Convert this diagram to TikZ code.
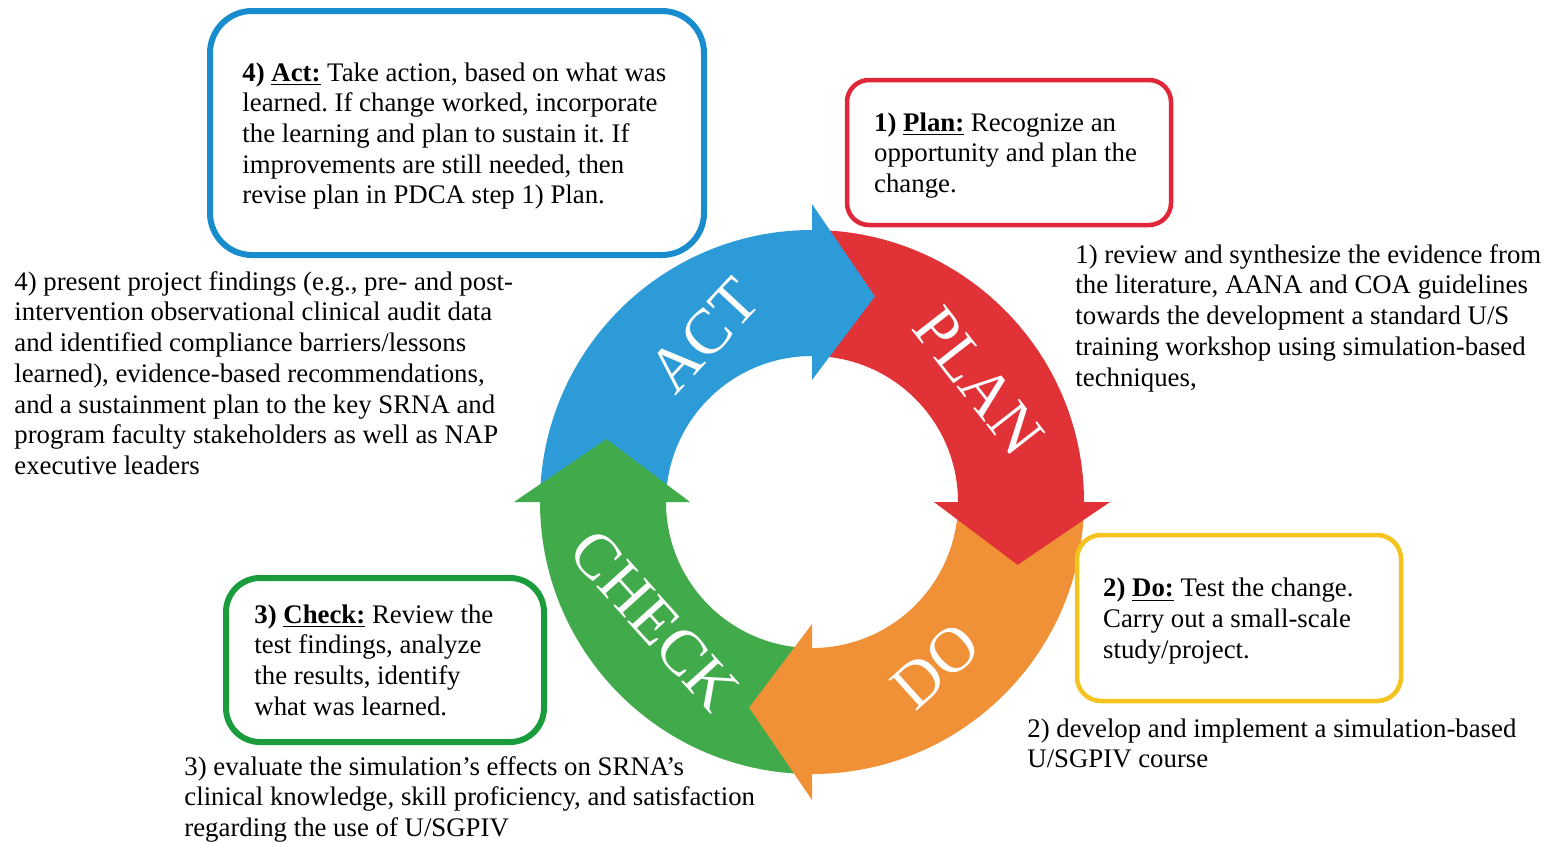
\documentclass[tikz,border=0pt]{standalone}
\usepackage{fontspec}
\setmainfont{Liberation Serif}
\frenchspacing
\definecolor{actblue}{HTML}{2D9BD7}
\definecolor{planred}{HTML}{E13237}
\definecolor{doorange}{HTML}{F09137}
\definecolor{checkgreen}{HTML}{41AA4B}
\definecolor{actframe}{HTML}{198CCD}
\definecolor{planframe}{HTML}{E2263A}
\definecolor{doframe}{HTML}{F5C31E}
\definecolor{checkframe}{HTML}{1A9B3C}
\begin{document}
\begin{tikzpicture}[
		x=0.5pt, y=0.5pt,
		card/.style={draw=#1, fill=white, inner sep=0pt},
		cardtext/.style={anchor=west, align=left, inner sep=0pt, font=\fontsize{13.4pt}{15.3pt}\selectfont},
		note/.style={anchor=north west, align=left, inner sep=0pt, font=\fontsize{13.4pt}{15.35pt}\selectfont},
		ringlabel/.style={text=white, inner sep=0pt, font=\fontsize{32pt}{32pt}\selectfont}
	]
	\useasboundingbox (0,-841) rectangle (1547,0);
	\coordinate (hub) at (812,-502);

	\foreach \col/\from/\to in {checkgreen/270/180, actblue/180/90, planred/90/0, doorange/0/-90}
		\fill[\col, shift={(hub)}] (\from:272) arc[start angle=\from, end angle=\to, radius=272]
			-- (\to:146) arc[start angle=\to, end angle=\from, radius=146] -- cycle;
	\foreach \col/\at in {checkgreen/180, actblue/90, planred/0, doorange/-90}
		\fill[\col, shift={(hub)}] (\at:298) -- (\at-17:215) -- (\at:122) -- cycle;

	\node[ringlabel, rotate=47] (actlabel) at ([shift={(123:198)}]hub) {ACT};
	\node[ringlabel, rotate=-52] (planlabel) at ([shift={(36:206)}]hub) {PLAN};
	\node[ringlabel, rotate=42] (dolabel) at ([shift={(-53:205)}]hub) {DO};
	\node[ringlabel, rotate=-48] (checklabel) at ([shift={(-143:197)}]hub) {CHECK};

	\node[card=actframe, line width=3pt, rounded corners=21pt, minimum width=247pt, minimum height=122pt] (actbox) at (457,-133) {};
	\node[cardtext] (acttext) at ([xshift=17.5pt, yshift=-1.5pt]actbox.west) {\textbf{4) \underline{Act:}} Take action, based on what was\\
		learned. If change worked, incorporate\\
		the learning and plan to sustain it. If\\
		improvements are still needed, then\\
		revise plan in PDCA step 1) Plan.};

	\node[card=planframe, line width=2.25pt, rounded corners=11pt, minimum width=162pt, minimum height=72.5pt] (planbox) at (1009,-152.5) {};
	\node[cardtext] (plantext) at ([xshift=14.5pt, yshift=-1.5pt]planbox.west) {\textbf{1) \underline{Plan:}} Recognize an\\
		opportunity and plan the\\
		change.};

	\node[card=doframe, line width=2.25pt, rounded corners=12pt, minimum width=162pt, minimum height=83pt] (dobox) at (1239,-618) {};
	\node[cardtext] (dotext) at ([xshift=14pt, yshift=-1.5pt]dobox.west) {\textbf{2) \underline{Do:}} Test the change.\\
		Carry out a small-scale\\
		study/project.};

	\node[card=checkframe, line width=3pt, rounded corners=17pt, minimum width=159pt, minimum height=82pt] (checkbox) at (385,-660) {};
	\node[cardtext] (checktext) at ([xshift=15.5pt]checkbox.west) {\textbf{3) \underline{Check:}} Review the\\
		test findings, analyze\\
		the results, identify\\
		what was learned.};

	\node[note] (plannote) at (1075,-244) {1) review and synthesize the evidence from\\
		the literature, AANA and COA guidelines\\
		towards the development a standard U/S\\
		training workshop using simulation-based\\
		techniques,};
	\node[note] (donote) at (1027,-718) {2) develop and implement a simulation-based\\
		U/SGPIV course};
	\node[note] (checknote) at (184,-756) {3) evaluate the simulation’s effects on SRNA’s\\
		clinical knowledge, skill proficiency, and satisfaction\\
		regarding the use of U/SGPIV};
	\node[note] (actnote) at (14,-271) {4) present project findings (e.g., pre- and post-\\
		intervention observational clinical audit data\\
		and identified compliance barriers/lessons\\
		learned), evidence-based recommendations,\\
		and a sustainment plan to the key SRNA and\\
		program faculty stakeholders as well as NAP\\
		executive leaders};
\end{tikzpicture}
\end{document}
